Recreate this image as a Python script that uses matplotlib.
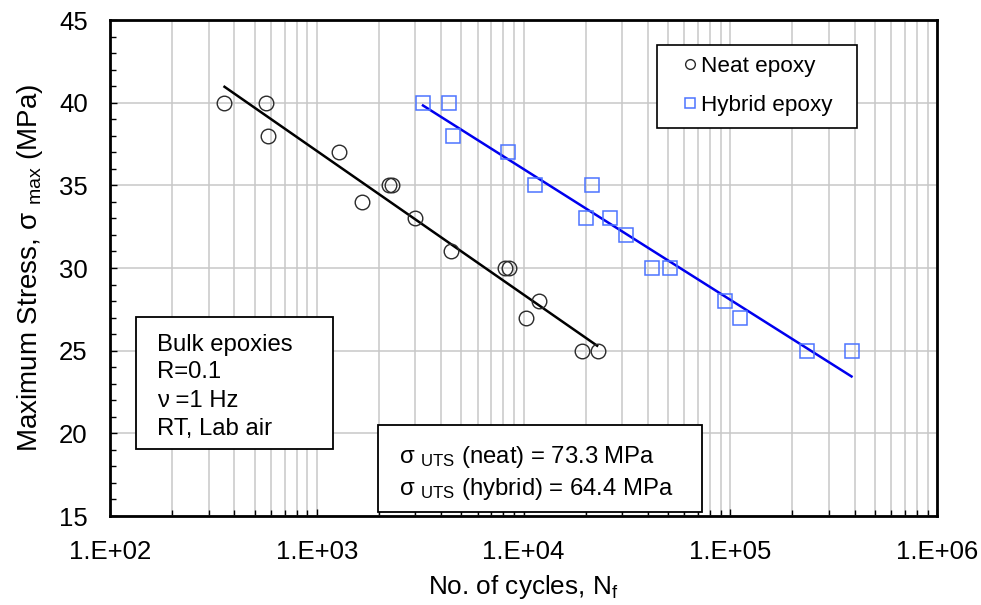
import numpy as np
import matplotlib
matplotlib.use('Agg')
import matplotlib.pyplot as plt
from matplotlib.patches import Rectangle
from matplotlib.ticker import LogLocator, MultipleLocator, FixedLocator

#<--data
neat_N = [354, 569, 584, 1280, 1660, 2240, 2310, 3000, 4480, 8180, 8490, 10300, 11900, 19200, 22800]
neat_S = [40, 40, 38, 37, 34, 35, 35, 33, 31, 30, 30, 27, 28, 25, 25]

hybrid_N = [3250, 4350, 4550, 8400, 11400, 20100, 21400, 26200, 31200, 41700, 50900, 94000, 111000, 236000, 387000]
hybrid_S = [40, 40, 38, 37, 35, 33, 35, 33, 32, 30, 30, 28, 27, 25, 25]

# trend lines (end points)
neat_fit_N = [358, 22700]
neat_fit_S = [40.96, 25.3]
hybrid_fit_N = [3265, 386000]
hybrid_fit_S = [39.83, 23.44]

x_ticks = [1e2, 1e3, 1e4, 1e5, 1e6]
x_ticklabels = ['1.E+02', '1.E+03', '1.E+04', '1.E+05', '1.E+06']
y_ticks = [15, 20, 25, 30, 35, 40, 45]

series_names = ['Neat epoxy', 'Hybrid epoxy']
box_lines = ['Bulk epoxies', 'R=0.1', '\u03bd =1 Hz', 'RT, Lab air']
uts_lines = ['\u03c3 $_{\\rm UTS}$ (neat) = 73.3 MPa', '\u03c3 $_{\\rm UTS}$ (hybrid) = 64.4 MPa']

plt.rcParams['font.family'] = ['Liberation Sans', 'DejaVu Sans']
plt.rcParams['mathtext.fontset'] = 'custom'
plt.rcParams['mathtext.rm'] = 'Liberation Sans'
plt.rcParams['mathtext.it'] = 'Liberation Sans:italic'


def create_plot():
	fig = plt.figure(figsize=(9.81, 6.05), dpi=100)
	ax = fig.add_axes([110 / 981, 1 - 516 / 605, 827 / 981, 496 / 605])

	ax.set_xscale('log')
	ax.set_xlim(1e2, 1e6)
	ax.set_ylim(15, 45)

	grid_c = '#c8c8c8'
	ax.xaxis.set_major_locator(FixedLocator(x_ticks))
	ax.xaxis.set_minor_locator(LogLocator(base=10, subs=np.arange(2, 10), numticks=20))
	ax.set_xticklabels(x_ticklabels)
	ax.yaxis.set_major_locator(FixedLocator(y_ticks))
	ax.yaxis.set_minor_locator(MultipleLocator(1))
	ax.grid(True, which='major', axis='both', color=grid_c, linewidth=1.1)
	ax.grid(True, which='minor', axis='x', color=grid_c, linewidth=1.1)
	ax.set_axisbelow(True)

	ax.tick_params(which='both', direction='in', labelsize=18.5, colors='black')
	ax.tick_params(which='major', length=5, width=1)
	ax.tick_params(which='minor', length=4, width=1)
	ax.tick_params(axis='x', which='major', pad=17)
	ax.tick_params(axis='y', which='major', pad=16)
	for s in ax.spines.values():
		s.set_linewidth(2)
		s.set_color('black')

	ax.plot(neat_fit_N, neat_fit_S, color='black', linewidth=1.8, zorder=3)
	ax.plot(hybrid_fit_N, hybrid_fit_S, color='#0000ee', linewidth=1.8, zorder=3)

	ax.plot(neat_N, neat_S, linestyle='none', marker='o', markersize=10.5,
			markerfacecolor='none', markeredgecolor='#2a2a2a', markeredgewidth=1.0, zorder=4)
	ax.plot(hybrid_N, hybrid_S, linestyle='none', marker='s', markersize=10,
			markerfacecolor='none', markeredgecolor='#4d74ff', markeredgewidth=1.1, zorder=4)

	# legend with small markers
	h1, = ax.plot([], [], linestyle='none', marker='o', markersize=7,
			markerfacecolor='none', markeredgecolor='#2a2a2a', markeredgewidth=1.0)
	h2, = ax.plot([], [], linestyle='none', marker='s', markersize=7,
			markerfacecolor='none', markeredgecolor='#4d74ff', markeredgewidth=1.1)
	lx0 = (657 - 110) / 827
	lx1 = (857 - 110) / 827
	ly1 = (516 - 45) / 496
	leg = ax.legend([h1, h2], series_names, loc='upper left',
			bbox_to_anchor=(lx0, ly1 - 0.2, lx1 - lx0, 0.2), mode='expand',
			borderaxespad=0, fontsize=16.2, frameon=True, fancybox=False,
			borderpad=0.5, handlelength=1.9, handletextpad=-0.45, labelspacing=0.8)
	leg.get_frame().set_edgecolor('black')
	leg.get_frame().set_linewidth(1.2)
	leg.get_frame().set_alpha(1)

	# condition box
	ax.add_patch(Rectangle((0.031, 0.135), 0.239, 0.2656, transform=ax.transAxes,
			facecolor='white', edgecolor='black', linewidth=1.3, zorder=5))
	box_y = [0.3333, 0.2788, 0.2191, 0.1633]
	for txt, yy in zip(box_lines, box_y):
		ax.text(0.0568, yy, txt, transform=ax.transAxes, fontsize=17.2,
				va='baseline', ha='left', zorder=6)

	# UTS box
	ax.add_patch(Rectangle((0.324, 0.009), 0.392, 0.175, transform=ax.transAxes,
			facecolor='white', edgecolor='black', linewidth=1.3, zorder=5))
	uts_y = [0.107, 0.042]
	for txt, yy in zip(uts_lines, uts_y):
		ax.text(0.349, yy, txt, transform=ax.transAxes, fontsize=17.2,
				va='baseline', ha='left', zorder=6)

	ax.set_xlabel('No. of cycles, N$_{\\rm f}$', fontsize=18.8, labelpad=7)
	ax.set_ylabel('Maximum Stress, \u03c3 $_{\\rm max}$ (MPa)', fontsize=20, labelpad=10)

	fig.savefig('out.png', dpi=100)


create_plot()
